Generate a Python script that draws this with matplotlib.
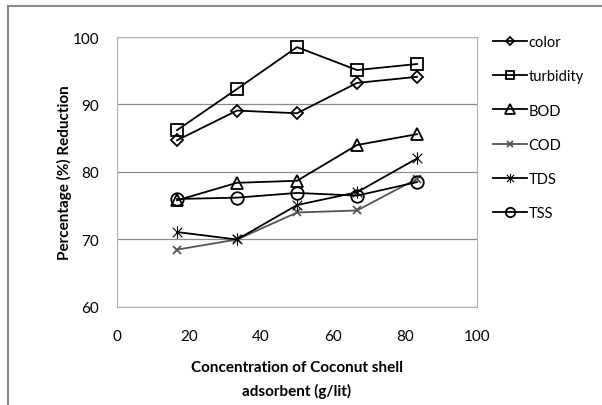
import matplotlib
matplotlib.use("Agg")
import matplotlib.pyplot as plt
from matplotlib.path import Path
from matplotlib.lines import Line2D

plt.rcParams['font.family'] = ['Lato', 'DejaVu Sans']

# dosage (g/lit) and % reduction of each parameter
conc = [16.67, 33.33, 50, 66.67, 83.33]
color = [84.7, 89.1, 88.7, 93.2, 94.1]
turbidity = [86.2, 92.3, 98.5, 95.1, 96.0]
bod = [75.8, 78.4, 78.7, 84.0, 85.6]
cod = [68.5, 70.0, 74.0, 74.3, 79.0]
tds = [71.1, 70.0, 75.1, 77.0, 82.0]
tss = [76.0, 76.2, 76.9, 76.5, 78.5]

# excel-like star: x with a vertical bar
star = Path([(-1, -1), (1, 1), (-1, 1), (1, -1), (0, -1.3), (0, 1.3)],
            [Path.MOVETO, Path.LINETO, Path.MOVETO, Path.LINETO, Path.MOVETO, Path.LINETO])

fig = plt.figure(figsize=(6.02, 4.06), dpi=100)
ax = fig.add_axes([0.1944, 0.2414, 0.598, 0.665])

series = [
    ("color", color, 'D', 6, 'black', 1.3),
    ("turbidity", turbidity, 's', 8.5, 'black', 1.3),
    ("BOD", bod, '^', 9, 'black', 1.3),
    ("COD", cod, 'x', 6, '#555555', 1.3),
    ("TDS", tds, star, 9, 'black', 0.8),
    ("TSS", tss, 'o', 9, 'black', 1.3),
]
handles = []
for name, vals, mk, ms, c, mew in series:
    ax.plot(conc, vals, color=c, lw=1.3, marker=mk, markersize=ms,
            markerfacecolor='none', markeredgecolor=c, markeredgewidth=mew)
    handles.append(Line2D([], [], color=c, lw=1.3, marker=mk, markersize=ms * 0.75,
                          markerfacecolor='none', markeredgecolor=c, markeredgewidth=mew, label=name))

ax.set_xlim(0, 100)
ax.set_ylim(60, 100)
ax.set_xticks([0, 20, 40, 60, 80, 100])
ax.set_yticks([60, 70, 80, 90, 100])
ax.yaxis.grid(True, color='#8c8c8c', lw=0.9)
ax.set_axisbelow(True)
ax.tick_params(length=0, labelsize=11)
ax.tick_params(axis='x', pad=16)
ax.tick_params(axis='y', pad=13)
for s in ax.spines.values():
    s.set_color('#b0b0b0')
ax.set_xlabel("Concentration of Coconut shell\nadsorbent (g/lit)", fontsize=11,
              fontweight='bold', labelpad=12, linespacing=1.75)
ax.set_ylabel("Percentage (%) Reduction", fontsize=11, fontweight='bold', labelpad=0)

fig.legend(handles=handles, loc='upper left', bbox_to_anchor=(0.81, 0.925), frameon=False,
           fontsize=10.5, labelspacing=1.38, handlelength=2.3, handletextpad=0.1,
           borderaxespad=0)

# outer chart border (top and left visible)
fig.add_artist(Line2D([0.014, 1.0], [0.983, 0.983], color='#8a8a8a', lw=1.5))
fig.add_artist(Line2D([0.014, 0.014], [0.0, 0.983], color='#8a8a8a', lw=1.5))

fig.savefig("out.png", dpi=100)
